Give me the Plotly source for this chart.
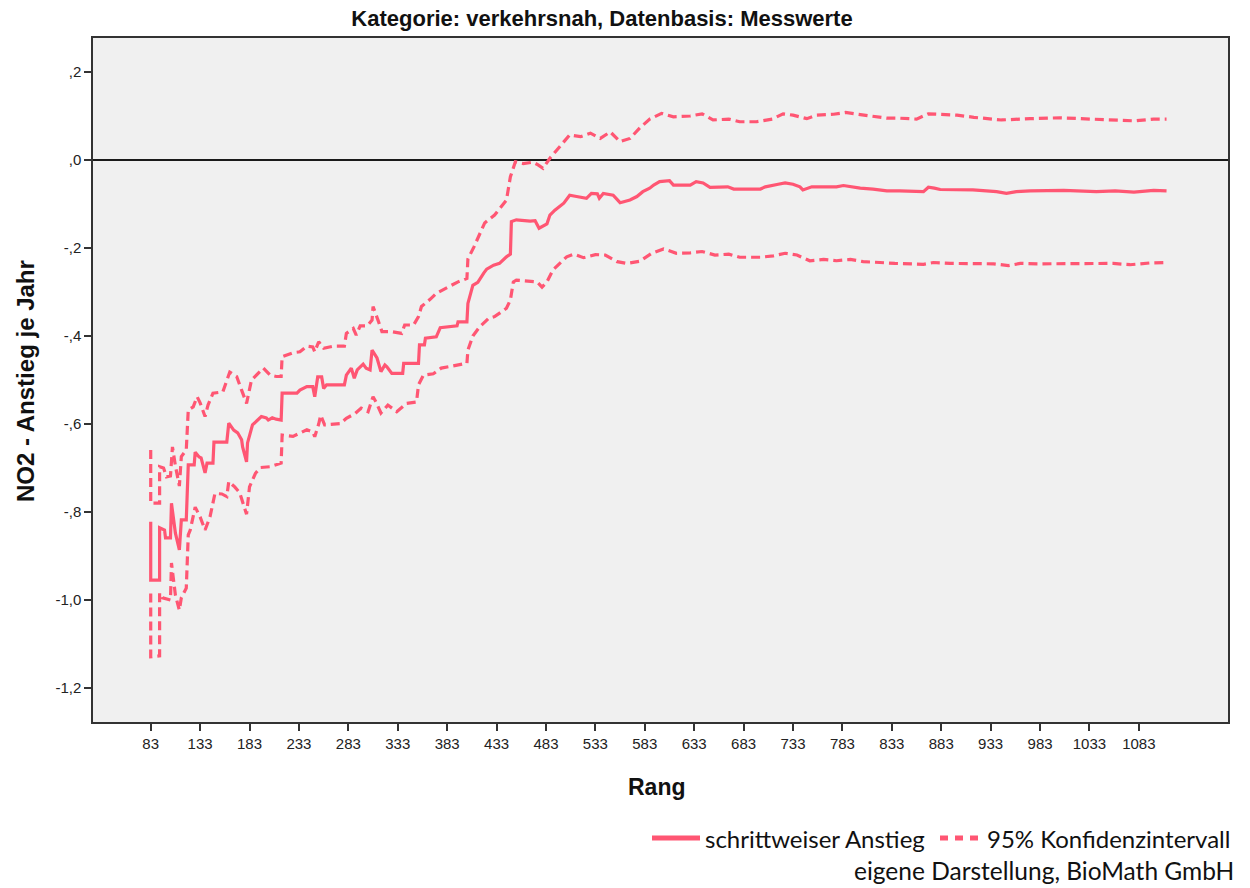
import plotly.graph_objects as go

# ---------------- data ----------------
main_rank = [83, 83, 92, 92, 97, 98, 103, 104, 108, 112, 114, 119, 121, 127, 128, 132, 134, 138, 140, 146,
             147, 160, 162, 167, 171, 175, 176, 180, 181, 186, 195, 200, 202, 206, 210, 215, 216, 231, 234, 241,
             247, 249, 252, 256, 258, 261, 279, 281, 286, 289, 292, 295, 298, 301, 305, 307, 312, 316, 320, 322,
             327, 338, 339, 354, 355, 360, 361, 372, 376, 393, 394, 403, 404, 409, 414, 420, 423, 430, 436, 443,
             447, 448, 453, 467, 472, 476, 484, 487, 492, 501, 507, 514, 524, 529, 535, 537, 541, 551, 558, 568,
             575, 581, 588, 592, 598, 608, 612, 629, 635, 642, 649, 667, 673, 700, 705, 718, 725, 733, 740, 743,
             752, 777, 784, 801, 814, 828, 841, 865, 870, 876, 882, 915, 939, 949, 959, 973, 1007, 1040, 1059, 1078,
             1098, 1111]
main_val = [-0.822, -0.955, -0.955, -0.836, -0.841, -0.859, -0.859, -0.780, -0.848, -0.886, -0.818, -0.818, -0.693,
            -0.693, -0.664, -0.675, -0.677, -0.711, -0.689, -0.689, -0.641, -0.641, -0.598, -0.614, -0.620, -0.636,
            -0.652, -0.686, -0.643, -0.602, -0.583, -0.586, -0.591, -0.586, -0.589, -0.591, -0.530, -0.530, -0.523,
            -0.515, -0.515, -0.538, -0.493, -0.493, -0.519, -0.511, -0.511, -0.489, -0.473, -0.496, -0.477, -0.470,
            -0.464, -0.473, -0.477, -0.432, -0.450, -0.481, -0.466, -0.470, -0.485, -0.485, -0.462, -0.462, -0.420,
            -0.420, -0.405, -0.402, -0.381, -0.377, -0.368, -0.368, -0.326, -0.285, -0.278, -0.257, -0.248, -0.239,
            -0.235, -0.220, -0.214, -0.140, -0.136, -0.139, -0.138, -0.155, -0.145, -0.125, -0.114, -0.098, -0.080,
            -0.083, -0.087, -0.076, -0.077, -0.087, -0.076, -0.080, -0.097, -0.091, -0.083, -0.072, -0.064, -0.057,
            -0.049, -0.047, -0.057, -0.057, -0.049, -0.052, -0.062, -0.061, -0.066, -0.066, -0.061, -0.055, -0.052,
            -0.055, -0.061, -0.068, -0.061, -0.061, -0.058, -0.064, -0.066, -0.070, -0.070, -0.072, -0.062, -0.064,
            -0.067, -0.068, -0.072, -0.076, -0.072, -0.070, -0.069, -0.072, -0.070, -0.073, -0.069, -0.070]

upper_rank = [83, 83, 92, 92, 96, 99, 103, 105, 108, 112, 114, 119, 121, 126, 130, 133, 138, 141, 146, 156,
              163, 170, 175, 180, 185, 190, 197, 204, 210, 215, 216, 227, 234, 241, 247, 249, 253, 258, 268, 279,
              281, 288, 291, 295, 302, 307, 308, 313, 317, 327, 337, 340, 349, 354, 357, 366, 372, 383, 394, 403,
              404, 410, 415, 421, 431, 438, 443, 447, 452, 460, 470, 475, 480, 487, 494, 501, 507, 518, 528, 538,
              548, 558, 568, 578, 588, 600, 612, 629, 641, 652, 668, 679, 696, 712, 723, 733, 747, 757, 774, 786,
              801, 814, 828, 841, 858, 870, 899, 916, 944, 973, 1003, 1034, 1079, 1098, 1111]
upper_val = [-0.659, -0.780, -0.780, -0.697, -0.700, -0.720, -0.718, -0.652, -0.695, -0.741, -0.674, -0.659,
             -0.568, -0.561, -0.538, -0.552, -0.583, -0.557, -0.530, -0.527, -0.482, -0.492, -0.523, -0.553, -0.500,
             -0.489, -0.473, -0.489, -0.492, -0.492, -0.447, -0.438, -0.436, -0.423, -0.425, -0.436, -0.413, -0.428,
             -0.423, -0.423, -0.394, -0.383, -0.398, -0.377, -0.377, -0.364, -0.333, -0.364, -0.390, -0.390, -0.394,
             -0.375, -0.375, -0.356, -0.333, -0.316, -0.303, -0.290, -0.277, -0.269, -0.225, -0.198, -0.173, -0.143,
             -0.125, -0.106, -0.091, -0.038, -0.004, -0.008, -0.005, -0.011, -0.019, 0.004, 0.023, 0.042, 0.057,
             0.053, 0.061, 0.049, 0.064, 0.042, 0.049, 0.073, 0.093, 0.106, 0.098, 0.100, 0.105, 0.091, 0.093, 0.087,
             0.087, 0.093, 0.105, 0.102, 0.094, 0.102, 0.104, 0.108, 0.104, 0.100, 0.095, 0.095, 0.093, 0.105, 0.102,
             0.097, 0.091, 0.094, 0.096, 0.093, 0.089, 0.093, 0.093]

lower_rank = [83, 83, 92, 92, 95, 101, 103, 104, 108, 112, 114, 119, 121, 123, 128, 133, 138, 143, 148, 155,
              160, 162, 168, 173, 180, 183, 189, 194, 204, 215, 216, 227, 241, 247, 249, 253, 255, 259, 275, 281,
              290, 296, 303, 308, 311, 316, 323, 332, 342, 352, 354, 359, 369, 377, 393, 403, 404, 409, 416, 425,
              431, 436, 443, 447, 450, 453, 467, 474, 479, 484, 490, 497, 504, 511, 521, 533, 543, 555, 565, 578,
              590, 602, 615, 629, 641, 654, 668, 679, 700, 713, 725, 737, 750, 764, 777, 791, 804, 821, 836, 865,
              875, 892, 936, 951, 963, 983, 1024, 1057, 1074, 1094, 1111]
lower_val = [-0.985, -1.129, -1.127, -0.984, -0.995, -1.000, -1.000, -0.916, -0.989, -1.023, -0.995, -0.973,
             -0.852, -0.841, -0.789, -0.811, -0.841, -0.811, -0.758, -0.759, -0.765, -0.731, -0.743, -0.756, -0.805,
             -0.743, -0.712, -0.699, -0.697, -0.689, -0.625, -0.628, -0.613, -0.618, -0.629, -0.600, -0.580, -0.602,
             -0.599, -0.587, -0.576, -0.564, -0.572, -0.538, -0.550, -0.575, -0.557, -0.572, -0.553, -0.550, -0.511,
             -0.489, -0.486, -0.473, -0.466, -0.462, -0.432, -0.400, -0.379, -0.360, -0.356, -0.348, -0.337, -0.318,
             -0.277, -0.273, -0.275, -0.277, -0.289, -0.277, -0.250, -0.235, -0.220, -0.214, -0.222, -0.215, -0.216,
             -0.231, -0.235, -0.230, -0.212, -0.202, -0.212, -0.211, -0.208, -0.216, -0.214, -0.221, -0.221, -0.218,
             -0.212, -0.216, -0.229, -0.226, -0.229, -0.226, -0.231, -0.233, -0.235, -0.237, -0.233, -0.235, -0.236,
             -0.240, -0.235, -0.236, -0.236, -0.235, -0.238, -0.234, -0.233]

x_ticks = [83, 133, 183, 233, 283, 333, 383, 433, 483, 533, 583, 633, 683, 733, 783, 833, 883, 933, 983, 1033, 1083]
y_ticks = [0.2, 0.0, -0.2, -0.4, -0.6, -0.8, -1.0, -1.2]
y_ticktext = [",2", ",0", "-,2", "-,4", "-,6", "-,8", "-1,0", "-1,2"]

title_text = "Kategorie: verkehrsnah, Datenbasis: Messwerte"
x_title = "Rang"
y_title = "NO2 - Anstieg je Jahr"
legend_main = "schrittweiser Anstieg"
legend_ci = "95% Konfidenzintervall"
source_text = "eigene Darstellung, BioMath GmbH"

# ---------------- styling ----------------
W, H = 1250, 888
ML, MR, MT, MB = 93, 22, 38, 166
PW, PH = W - ML - MR, H - MT - MB
LINE_COLOR = "#ff5673"
DASH = "9px,5px"
AXIS_FONT = "Liberation Sans, Arial, sans-serif"
LEG_FONT = "Lato, Open Sans, sans-serif"


def px(x):
    return (x - ML) / PW


def py(y):
    return (H - MB - y) / PH


fig = go.Figure()
fig.add_trace(go.Scatter(x=main_rank, y=main_val, mode="lines", name=legend_main,
                         line=dict(color=LINE_COLOR, width=3.2), showlegend=False))
fig.add_trace(go.Scatter(x=upper_rank, y=upper_val, mode="lines", name=legend_ci,
                         line=dict(color=LINE_COLOR, width=3.2, dash=DASH), showlegend=False))
fig.add_trace(go.Scatter(x=lower_rank, y=lower_val, mode="lines", name=legend_ci,
                         line=dict(color=LINE_COLOR, width=3.2, dash=DASH), showlegend=False))

axis_common = dict(showline=True, mirror=True, linecolor="#333333", linewidth=1.5,
                   ticks="outside", ticklen=7, tickwidth=1.5, tickcolor="#333333",
                   showgrid=False, tickfont=dict(family=AXIS_FONT, size=15, color="#222222"))

fig.update_xaxes(range=[24.6, 1173.2], tickmode="array", tickvals=x_ticks,
                 ticktext=[str(v) for v in x_ticks], zeroline=False, **axis_common)
fig.update_yaxes(range=[-1.2773, 0.2773], tickmode="array", tickvals=y_ticks, ticktext=y_ticktext,
                 zeroline=True, zerolinecolor="#1a1a1a", zerolinewidth=1.5, **axis_common)

shapes = [
    dict(type="line", xref="paper", yref="paper", x0=px(652), x1=px(700), y0=py(838), y1=py(838),
         line=dict(color=LINE_COLOR, width=5)),
    dict(type="line", xref="paper", yref="paper", x0=px(940), x1=px(979), y0=py(838), y1=py(838),
         line=dict(color=LINE_COLOR, width=5, dash="8px,7px")),
]

annotations = [
    dict(text="<b>%s</b>" % x_title, xref="paper", yref="paper", x=px(657), y=py(787),
         showarrow=False, font=dict(family=AXIS_FONT, size=23, color="#111111"),
         xanchor="center", yanchor="middle"),
    dict(text="<b>%s</b>" % y_title, xref="paper", yref="paper", x=px(25), y=py(381),
         showarrow=False, textangle=-90, font=dict(family=AXIS_FONT, size=24, color="#111111"),
         xanchor="center", yanchor="middle"),
    dict(text=legend_main, xref="paper", yref="paper", x=px(703), y=py(838),
         showarrow=False, font=dict(family=LEG_FONT, size=24, color="#111111"),
         xanchor="left", yanchor="middle"),
    dict(text=legend_ci, xref="paper", yref="paper", x=px(985), y=py(838),
         showarrow=False, font=dict(family=LEG_FONT, size=24, color="#111111"),
         xanchor="left", yanchor="middle"),
    dict(text=source_text, xref="paper", yref="paper", x=px(1236), y=py(870),
         showarrow=False, font=dict(family=LEG_FONT, size=24.5, color="#111111"),
         xanchor="right", yanchor="middle"),
]

fig.update_layout(
    width=W, height=H,
    margin=dict(l=ML, r=MR, t=MT, b=MB, pad=0),
    paper_bgcolor="white", plot_bgcolor="#f0f0f0",
    title=dict(text="<b>%s</b>" % title_text, x=602 / W, xref="container", xanchor="center",
               y=1 - 18 / H, yref="container", yanchor="middle",
               font=dict(family=AXIS_FONT, size=22, color="#111111")),
    shapes=shapes, annotations=annotations, showlegend=False,
)

fig.write_html("out.html", config={"displayModeBar": False},
               post_script="document.body.style.margin='0';")
